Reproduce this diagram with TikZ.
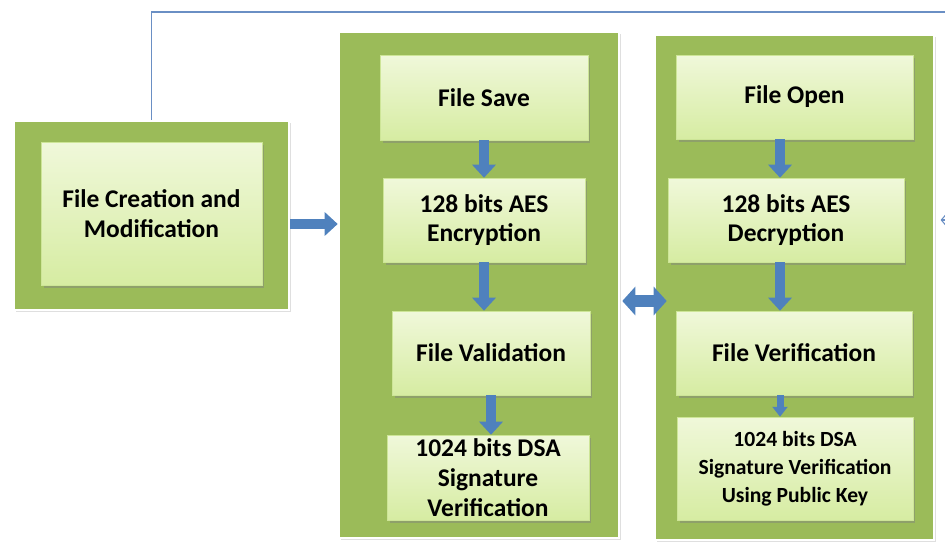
\documentclass[tikz,border=0pt]{standalone}
\usepackage{fontspec}
\setmainfont{Carlito}
\usetikzlibrary{arrows.meta,shadows,calc}
\definecolor{panelgreen}{HTML}{9BBB59}
\definecolor{boxtop}{HTML}{F0F8DA}
\definecolor{boxbot}{HTML}{D6ECA2}
\definecolor{arrowblue}{HTML}{4F81BD}
\definecolor{linkblue}{HTML}{6A8FC4}

\begin{document}
\begin{tikzpicture}[x=0.02cm,y=-0.02cm,font=\fontsize{14.5}{17}\selectfont\bfseries]
    \tikzstyle{panel}=[fill=panelgreen, draw=white, line width=1.5pt, inner sep=0pt,
        drop shadow={opacity=0.25, shadow xshift=0.04cm, shadow yshift=-0.04cm}]
    \tikzstyle{stage}=[top color=boxtop, bottom color=boxbot, draw=boxbot!85!panelgreen,
        line width=0.3pt, align=center, inner sep=2pt,
        drop shadow={opacity=0.45, shadow xshift=0.05cm, shadow yshift=-0.06cm}]
    \tikzstyle{flow}=[arrowblue, line width=0.21cm, -{Triangle[width=0.46cm,length=0.26cm]}]
    \tikzstyle{smallflow}=[arrowblue, line width=0.14cm, -{Triangle[width=0.3cm,length=0.2cm]}]

    \useasboundingbox (0,0) rectangle (945,543);
    \clip (0,0) rectangle (945,543);

    % outer panels
    \node[panel, minimum width=5.5cm, minimum height=3.78cm] (B1) at (151.5,215.5) {};
    \node[panel, minimum width=5.6cm, minimum height=10.12cm] (P2) at (479,285) {};
    \node[panel, minimum width=5.58cm, minimum height=10.1cm] (P3) at (794.5,287.5) {};

    % file creation
    \node[stage, minimum width=4.42cm, minimum height=2.86cm] (C1) at (151.5,213.5)
        {File Creation and\\Modification};

    % save side
    \node[stage, minimum width=4.16cm, minimum height=1.7cm] (S1) at (484,97.5) {File Save};
    \node[stage, minimum width=4.04cm, minimum height=1.68cm] (S2) at (484,220)
        {128 bits AES\\Encryption};
    \node[stage, minimum width=3.96cm, minimum height=1.68cm] (S3) at (491,353) {File Validation};
    \node[stage, minimum width=4.04cm, minimum height=1.7cm] (S4) at (488,477.5)
        {1024 bits DSA\\Signature\\Verification};

    % open side
    \node[stage, minimum width=4.74cm, minimum height=1.68cm] (D1) at (794.5,97) {File Open};
    \node[stage, minimum width=4.72cm, minimum height=1.68cm] (D2) at (786,220)
        {128 bits AES\\Decryption};
    \node[stage, minimum width=4.72cm, minimum height=1.68cm] (D3) at (794,353) {File Verification};
    \node[stage, minimum width=4.72cm, minimum height=2.06cm,
        font=\fontsize{12.3}{16}\selectfont\bfseries] (D4) at (795,468.5)
        {1024 bits DSA\\Signature Verification\\Using Public Key};

    \coordinate (dcol) at (780,0);
    \coordinate (rt) at (960,12);
    \coordinate (inflow) at ($(B1.east)+(0,8.5)$);
    \coordinate (dbl) at ($(P2.east)+(0,16)$);

    % arrows
    \draw[flow] (inflow) -- (inflow -| P2.west);
    \foreach \a/\b in {S1/S2,S2/S3,S3/S4}
        \draw[flow] (\a.south) -- (\a.south |- \b.north);
    \foreach \a/\b in {D1/D2,D2/D3}
        \draw[flow] (\a.south -| dcol) -- (\b.north -| dcol);
    \draw[smallflow] (D3.south -| dcol) -- (D4.north -| dcol);
    \draw[arrowblue, line width=0.24cm, shorten >=-0.26cm, shorten <=0.04cm,
        {Triangle[width=0.56cm,length=0.26cm]}-{Triangle[width=0.56cm,length=0.26cm]}]
        (dbl) -- (dbl -| P3.west);

    % feedback line
    \draw[linkblue, line width=0.6pt, shorten >=3pt, -{Straight Barb[length=3pt,width=7pt]}]
        (B1.north) |- (rt) |- (P3.east |- D2);
\end{tikzpicture}
\end{document}
